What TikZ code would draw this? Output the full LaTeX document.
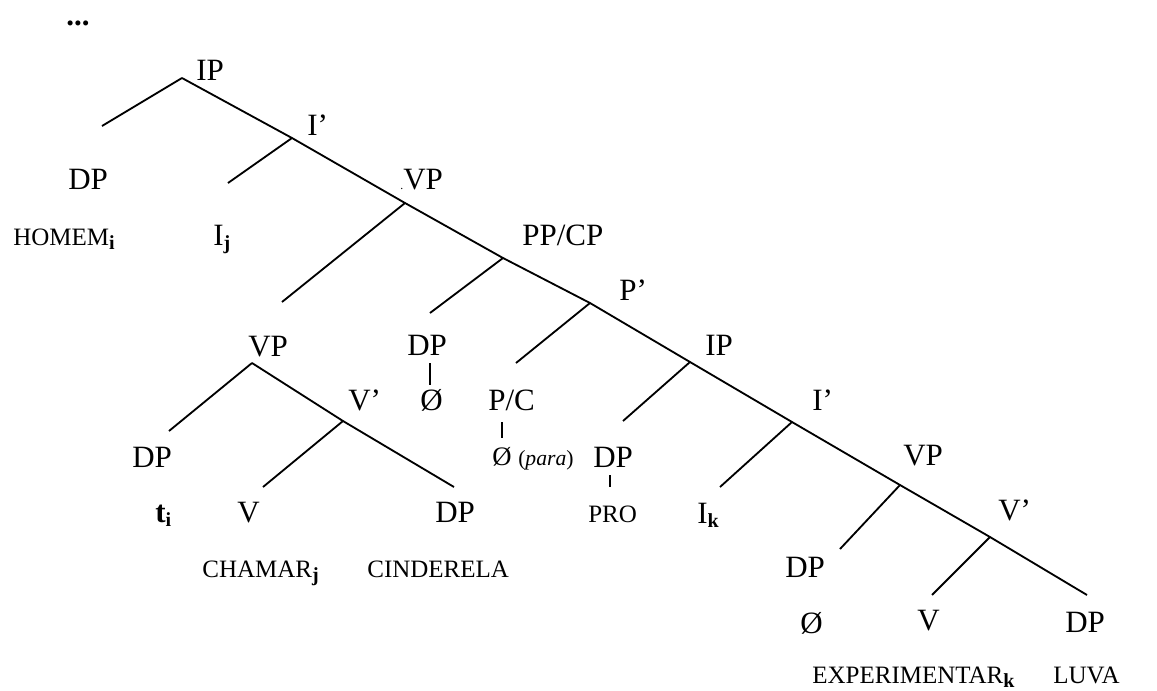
\documentclass[tikz,border=0pt]{standalone}
\usepackage{fontspec}
\setmainfont{Liberation Serif}
\usepackage{tikz}
\newcommand{\subidx}[1]{\raisebox{-2.6pt}{\fontsize{12}{12}\selectfont\bfseries #1}}

\begin{document}
\begin{tikzpicture}[
    x=0.6pt, y=-0.6pt,
    cat/.style={inner sep=0pt, anchor=base west, font=\fontsize{18.6}{20}\selectfont},
    word/.style={inner sep=0pt, anchor=base west, font=\fontsize{15}{17}\selectfont},
    branch/.style={line width=1.1pt, draw=black, line cap=butt}
]
\useasboundingbox (0,0) rectangle (1157,690);

% ramo principal: pontos de ramificação
\coordinate (ipTop) at (182,78);
\coordinate (ipTopL) at (102,126);
\coordinate (ibA) at (292,138);
\coordinate (ibAL) at (228,183);
\coordinate (vpA) at (405,203);
\coordinate (vpAL) at (282,302);
\coordinate (ppA) at (503,258);
\coordinate (ppAL) at (430,313);
\coordinate (pbA) at (590,303);
\coordinate (pbAL) at (516,363);
\coordinate (ipB) at (690,362);
\coordinate (ipBL) at (623,421);
\coordinate (ibB) at (792,422);
\coordinate (ibBL) at (720,487);
\coordinate (vpB) at (900,485);
\coordinate (vpBL) at (840,549);
\coordinate (vbB) at (990,537);
\coordinate (vbBL) at (932,595);
\coordinate (endB) at (1087,595);

% VP encaixado (chamar Cinderela)
\coordinate (vpC) at (252,363);
\coordinate (vpCL) at (169,431);
\coordinate (vbC) at (343,421);
\coordinate (vbCL) at (263,487);
\coordinate (vbCR) at (454,487);

% hastes verticais
\coordinate (dpStemT) at (430,363);
\coordinate (dpStemB) at (430,385);
\coordinate (pcStemT) at (502,422);
\coordinate (pcStemB) at (502,438);
\coordinate (proStemT) at (610,475);
\coordinate (proStemB) at (610,487);

% rótulos categoriais
\node[cat, font=\fontsize{18.6}{20}\selectfont\bfseries] (dots) at (66,25) {...};
\node[cat] (ipTopLab) at (196,80) {IP};
\node[cat] (dpSubj) at (68,189) {DP};
\node[word] (homem) at (13,245) {HOMEM\subidx{i}};
\node[cat] (ibALab) at (307,135) {I’};
\node[cat] (infl) at (213,245) {I\subidx{j}};
\node[cat] (vpALab) at (400,189) {{\fontsize{7}{7}\selectfont.}VP};
\node[cat] (ppLab) at (522,245) {PP/CP};
\node[cat] (pbLab) at (619,300) {P’};
\node[cat] (ipBLab) at (705,355) {IP};

% ramo do DP nulo e de P/C
\node[cat] (dpNull) at (407,355) {DP};
\node[cat] (nullA) at (420,410) {Ø};
\node[cat] (pcLab) at (488,410) {P/C};
\node[cat, font=\fontsize{16}{18}\selectfont] (nullPara) at (492,465) {Ø {\fontsize{13}{15}\selectfont(\textit{para})}};

% VP encaixado
\node[cat] (vpCLab) at (248,356) {VP};
\node[cat] (vbCLab) at (348,410) {V’};
\node[cat] (dpTrace) at (132,467) {DP};
\node[cat] (trace) at (155,522) {\textbf{t}\subidx{i}};
\node[cat] (vChamar) at (237,522) {V};
\node[cat] (dpObj) at (435,522) {DP};
\node[word] (chamar) at (202,577) {CHAMAR\subidx{j}};
\node[word] (cinderela) at (367,577) {CINDERELA};

% IP infinitivo
\node[cat] (dpPro) at (593,467) {DP};
\node[word] (pro) at (588,522) {PRO};
\node[cat] (inflK) at (697,523) {I\subidx{k}};
\node[cat] (ibBLab) at (812,410) {I’};
\node[cat] (vpBLab) at (903,465) {VP};
\node[cat] (vbBLab) at (998,520) {V’};
\node[cat] (dpNullB) at (785,577) {DP};
\node[cat] (nullB) at (800,633) {Ø};
\node[cat] (vExp) at (917,630) {V};
\node[cat] (dpLuva) at (1065,632) {DP};
\node[word] (experimentar) at (812,683) {EXPERIMENTAR\subidx{k}};
\node[word] (luva) at (1053,683) {LUVA};

% espinha da árvore
\draw[branch] (ipTop) -- (ibA) -- (vpA) -- (ppA) -- (pbA) -- (ipB) -- (ibB) -- (vpB) -- (vbB) -- (endB);

% ramos à esquerda
\draw[branch] (ipTop) -- (ipTopL);
\draw[branch] (ibA) -- (ibAL);
\draw[branch] (vpA) -- (vpAL);
\draw[branch] (ppA) -- (ppAL);
\draw[branch] (pbA) -- (pbAL);
\draw[branch] (ipB) -- (ipBL);
\draw[branch] (ibB) -- (ibBL);
\draw[branch] (vpB) -- (vpBL);
\draw[branch] (vbB) -- (vbBL);

% VP encaixado
\draw[branch] (vpC) -- (vpCL);
\draw[branch] (vpC) -- (vbC) -- (vbCR);
\draw[branch] (vbC) -- (vbCL);

% hastes
\draw[branch] (dpStemT) -- (dpStemB);
\draw[branch] (pcStemT) -- (pcStemB);
\draw[branch] (proStemT) -- (proStemB);
\end{tikzpicture}
\end{document}
